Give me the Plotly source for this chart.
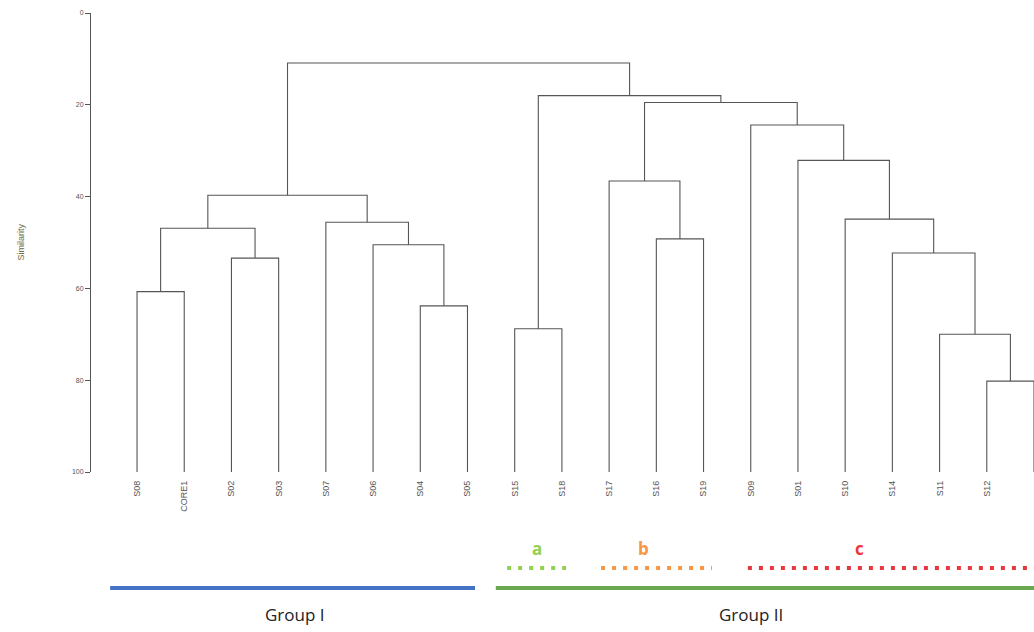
import plotly.graph_objects as go

# ---------------- data ----------------
leaves = ["S08", "CORE1", "S02", "S03", "S07", "S06", "S04", "S05", "S15", "S18",
          "S17", "S16", "S19", "S09", "S01", "S10", "S14", "S11", "S12", "S13"]

merge_names = ["m1", "m2", "m3", "m4", "m5", "m6", "m7", "m8", "m9", "m10",
               "m11", "m12", "m13", "m14", "m15", "m16", "m17", "m18", "m19"]
merge_left = ["S08", "S02", "m1", "S04", "S06", "S07", "m3", "S15", "S16", "S17",
              "S12", "S11", "S14", "S10", "S01", "S09", "m10", "m8", "m7"]
merge_right = ["CORE1", "S03", "m2", "S05", "m4", "m5", "m6", "S18", "S19", "m9",
               "S13", "m11", "m12", "m13", "m14", "m15", "m16", "m17", "m18"]
merge_height = [60.7, 53.4, 46.9, 63.8, 50.5, 45.6, 39.7, 68.8, 49.2, 36.6,
                80.2, 70.0, 52.3, 44.9, 32.1, 24.4, 19.5, 18.0, 10.9]

y_ticks = [0, 20, 40, 60, 80, 100]

group_names = ["Group I", "Group II"]
group_first = ["S08", "S15"]
group_last = ["S05", "S13"]
group_colors = ["#4472C4", "#6AA84F"]

sub_names = ["a", "b", "c"]
sub_first = ["S15", "S17", "S09"]
sub_last = ["S18", "S19", "S13"]
sub_colors = ["#92D050", "#F79646", "#E8383D"]

# ---------------- geometry from data ----------------
xpos = {name: i for i, name in enumerate(leaves)}
ypos = {name: 100.0 for name in leaves}
xs, ys = [], []
for name, a, b, h in zip(merge_names, merge_left, merge_right, merge_height):
    xa, xb = xpos[a], xpos[b]
    xs += [xa, xa, xb, xb, None]
    ys += [ypos[a], h, h, ypos[b], None]
    xpos[name] = (xa + xb) / 2
    ypos[name] = h

fig = go.Figure()
fig.add_trace(go.Scatter(x=xs, y=ys, mode="lines",
                         line=dict(color="#555555", width=1.1),
                         hoverinfo="skip", showlegend=False, cliponaxis=False))

# figure size / margins
W, H = 1034, 632
L, R, T, B = 91, 0, 13, 160
PLOT_TOP_PAGE, PLOT_BOT_PAGE = 13, 472
plot_h = PLOT_BOT_PAGE - PLOT_TOP_PAGE


def py(p):
    """pixel row -> paper y"""
    return (PLOT_BOT_PAGE - p) / plot_h


XMAX = 19.0

# group bars and labels
group_pad_left = [0.57, 0.4]
group_pad_right = [0.16, 1.0]
group_label_x = [3.35, 13.0]
for name, f, l, col, pl, pr, lx in zip(group_names, group_first, group_last, group_colors,
                                       group_pad_left, group_pad_right, group_label_x):
    x0 = leaves.index(f) - pl
    x1 = leaves.index(l) + pr
    fig.add_shape(type="line", xref="x", yref="paper", x0=x0, x1=x1,
                  y0=py(588), y1=py(588), line=dict(color=col, width=4))
    fig.add_annotation(x=lx, xref="x", y=py(614), yref="paper", text=name,
                       showarrow=False, font=dict(family="Open Sans", size=17, color="#222"),
                       xanchor="center", yanchor="middle")

sub_pad_left = [0.16, 0.17, 0.06]
sub_pad_right = [0.2, 0.18, 1.0]
sub_label_x = [8.48, 10.72, 15.3]
for name, f, l, col, pl, pr, lx in zip(sub_names, sub_first, sub_last, sub_colors,
                                       sub_pad_left, sub_pad_right, sub_label_x):
    x0 = leaves.index(f) - pl
    x1 = leaves.index(l) + pr
    fig.add_shape(type="line", xref="x", yref="paper", x0=x0, x1=x1,
                  y0=py(568), y1=py(568), line=dict(color=col, width=4, dash="4px,7px"))
    fig.add_annotation(x=lx, xref="x", y=py(548), yref="paper", text="<b>" + name + "</b>",
                       showarrow=False, font=dict(family="Open Sans", size=17, color=col),
                       xanchor="center", yanchor="middle")

# y-axis title
fig.add_annotation(x=0, xref="paper", xshift=-78, y=0.5, yref="paper", text="Similarity",
                   textangle=-90, showarrow=False,
                   font=dict(family="Liberation Sans", size=9, color="#6b6b45"))

fig.update_layout(
    width=W, height=H,
    margin=dict(l=L, r=R, t=T, b=B),
    paper_bgcolor="white", plot_bgcolor="white",
    xaxis=dict(range=[-0.975, XMAX], tickvals=list(range(len(leaves))), ticktext=leaves,
               tickangle=-90, showgrid=False, zeroline=False, showline=False, ticks="",
               tickfont=dict(family="Liberation Sans", size=9, color="#555"),
               ticklabelstandoff=6),
    yaxis=dict(range=[100, 0], tickvals=y_ticks, showgrid=False, zeroline=False,
               showline=True, linecolor="#555", linewidth=1, ticks="outside",
               ticklen=5, tickcolor="#555",
               tickfont=dict(family="Liberation Sans", size=7, color="#555")),
    showlegend=False,
)

fig.write_html("out.html", config={"displayModeBar": False},
               post_script="document.body.style.margin='0';document.body.style.overflow='hidden';")
